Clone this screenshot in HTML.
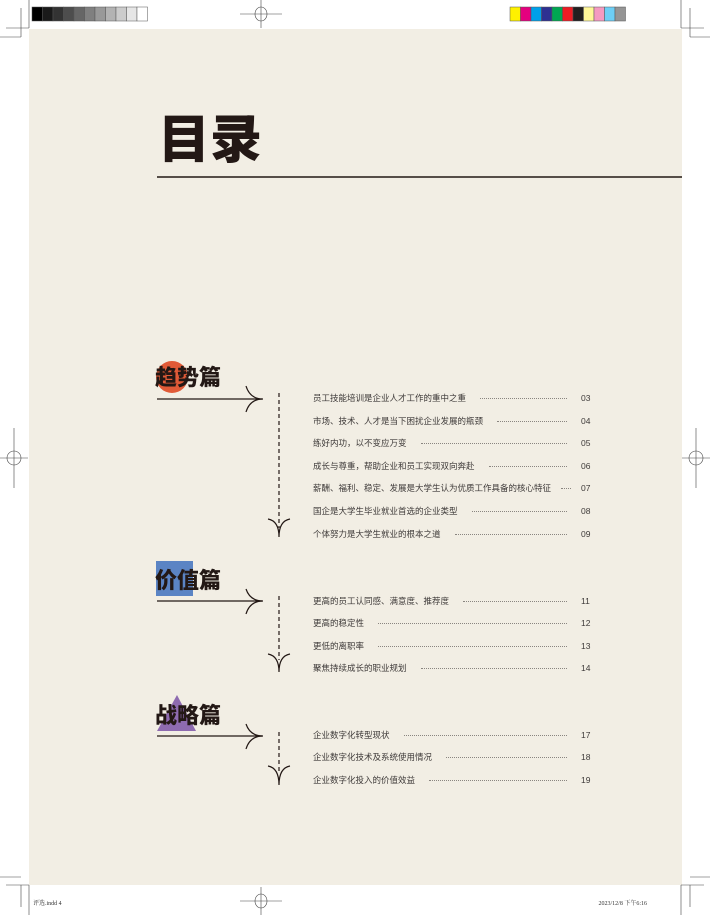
<!DOCTYPE html>
<html><head><meta charset="utf-8"><style>
body{margin:0;width:710px;height:915px;background:#fff;position:relative;overflow:hidden;font-family:"Liberation Sans","Noto Sans CJK SC",sans-serif;}
.pg{position:absolute;left:29px;top:29px;width:653px;height:856px;background:#f2eee4;}
.t{position:absolute;left:158px;top:100px;font-size:52px;font-weight:900;color:#231815;letter-spacing:0px;font-family:"Noto Sans CJK SC",sans-serif;line-height:72px;}
.h{position:absolute;left:155px;font-size:22px;font-weight:900;color:#231815;font-family:"Noto Sans CJK SC",sans-serif;line-height:30px;}
.r{position:absolute;left:313px;width:280px;display:flex;align-items:center;font-size:8.5px;color:#3e3a39;height:12px;white-space:nowrap;font-family:"Liberation Sans","Noto Sans CJK SC",sans-serif;}
.r span{white-space:nowrap;flex-shrink:0}
.r .d{flex:1 1 auto;flex-shrink:1;border-bottom:1px dotted #8a8580;margin:0 14px 0 14px;height:0;position:relative;}
.r .n{width:12px;text-align:left;font-size:8.5px;}
</style></head><body>
<div class="pg"></div>
<svg width="710" height="915" style="position:absolute;left:0;top:0">
<g stroke="#444" stroke-width="0.6" fill="none">
<line x1="29" y1="0" x2="29" y2="28"/><line x1="21" y1="8" x2="21" y2="37"/><line x1="6" y1="28" x2="29" y2="28"/><line x1="0" y1="37" x2="21" y2="37"/>
<line x1="681" y1="0" x2="681" y2="28"/><line x1="690" y1="8" x2="690" y2="37"/><line x1="681" y1="28" x2="704" y2="28"/><line x1="690" y1="37" x2="710" y2="37"/>
<line x1="29" y1="885" x2="29" y2="915"/><line x1="21" y1="885" x2="21" y2="907"/><line x1="0" y1="877" x2="21" y2="877"/><line x1="6" y1="885" x2="29" y2="885"/>
<line x1="681" y1="885" x2="681" y2="915"/><line x1="690" y1="885" x2="690" y2="907"/><line x1="690" y1="877" x2="710" y2="877"/><line x1="681" y1="885" x2="704" y2="885"/>
<line x1="240" y1="14" x2="282" y2="14"/><line x1="261" y1="0" x2="261" y2="28"/><ellipse cx="261" cy="14" rx="6" ry="7"/>
<line x1="240" y1="901" x2="282" y2="901"/><line x1="261" y1="887" x2="261" y2="915"/><ellipse cx="261" cy="901" rx="6" ry="7"/>
<line x1="0" y1="458" x2="28" y2="458"/><line x1="14" y1="428" x2="14" y2="488"/><circle cx="14" cy="458" r="7"/>
<line x1="682" y1="458" x2="710" y2="458"/><line x1="696" y1="428" x2="696" y2="488"/><circle cx="696" cy="458" r="7"/>
</g>
<g stroke="#555" stroke-width="0.5">
<rect x="32" y="7" width="10.5" height="14" fill="#000"/><rect x="42.5" y="7" width="10.5" height="14" fill="#1a1a1a"/><rect x="53" y="7" width="10.5" height="14" fill="#333"/><rect x="63.5" y="7" width="10.5" height="14" fill="#4d4d4d"/><rect x="74" y="7" width="10.5" height="14" fill="#666"/><rect x="84.5" y="7" width="10.5" height="14" fill="#808080"/><rect x="95" y="7" width="10.5" height="14" fill="#999"/><rect x="105.5" y="7" width="10.5" height="14" fill="#b3b3b3"/><rect x="116" y="7" width="10.5" height="14" fill="#ccc"/><rect x="126.5" y="7" width="10.5" height="14" fill="#e6e6e6"/><rect x="137" y="7" width="10.5" height="14" fill="#fff"/>
<rect x="510" y="7" width="10.5" height="14" fill="#fff100"/><rect x="520.5" y="7" width="10.5" height="14" fill="#e4007f"/><rect x="531" y="7" width="10.5" height="14" fill="#00a0e9"/><rect x="541.5" y="7" width="10.5" height="14" fill="#2e3192"/><rect x="552" y="7" width="10.5" height="14" fill="#00a652"/><rect x="562.5" y="7" width="10.5" height="14" fill="#ed1c24"/><rect x="573" y="7" width="10.5" height="14" fill="#231f20"/><rect x="583.5" y="7" width="10.5" height="14" fill="#fff799"/><rect x="594" y="7" width="10.5" height="14" fill="#f49ac1"/><rect x="604.5" y="7" width="10.5" height="14" fill="#6dcff6"/><rect x="615" y="7" width="10.5" height="14" fill="#959595"/>
</g>
<line x1="157" y1="177" x2="682" y2="177" stroke="#231815" stroke-width="1.6"/>
<circle cx="172" cy="377" r="16" fill="#e05a37"/>
<rect x="156" y="561" width="37" height="35" fill="#5b84c4"/>
<polygon points="177,695 196,731 157,731" fill="#8e6bb0"/>
<g stroke="#231815" stroke-width="1.2" fill="none">
<line x1="157" y1="399" x2="262" y2="399"/><path d="M246,386 Q250,399 263,399 Q250,399 246,412"/>
<line x1="279" y1="393" x2="279" y2="528" stroke-dasharray="4,3"/><path d="M268,519 Q279,521 279,537 Q279,521 290,519"/>
<line x1="157" y1="601" x2="262" y2="601"/><path d="M246,589 Q250,601 263,601 Q250,601 246,614"/>
<line x1="279" y1="596" x2="279" y2="660" stroke-dasharray="4,3"/><path d="M268,654 Q279,656 279,672 Q279,656 290,654"/>
<line x1="157" y1="736" x2="262" y2="736"/><path d="M246,724 Q250,736 263,736 Q250,736 246,749"/>
<line x1="279" y1="732" x2="279" y2="772" stroke-dasharray="4,3"/><path d="M268,766 Q279,768 279,785 Q279,768 290,766"/>
</g>
<text x="33" y="905" font-size="6" fill="#333" font-family="Liberation Serif,Noto Serif CJK SC,serif">评选.indd 4</text>
<text x="647" y="905" font-size="6" fill="#333" text-anchor="end" font-family="Liberation Serif,Noto Serif CJK SC,serif">2023/12/8 下午6:16</text>
</svg>
<div class="t">目录</div>
<div class="h" style="top:361px">趋势篇</div>
<div class="h" style="top:564px">价值篇</div>
<div class="h" style="top:699px">战略篇</div>
<div class="r" style="top:392px"><span>员工技能培训是企业人才工作的重中之重</span><span class="d"></span><span class="n">03</span></div>
<div class="r" style="top:415px"><span>市场、技术、人才是当下困扰企业发展的瓶颈</span><span class="d"></span><span class="n">04</span></div>
<div class="r" style="top:437px"><span>练好内功，以不变应万变</span><span class="d"></span><span class="n">05</span></div>
<div class="r" style="top:460px"><span>成长与尊重，帮助企业和员工实现双向奔赴</span><span class="d"></span><span class="n">06</span></div>
<div class="r" style="top:482px"><span>薪酬、福利、稳定、发展是大学生认为优质工作具备的核心特征</span><span class="d" style="margin:0 10px"></span><span class="n">07</span></div>
<div class="r" style="top:505px"><span>国企是大学生毕业就业首选的企业类型</span><span class="d"></span><span class="n">08</span></div>
<div class="r" style="top:528px"><span>个体努力是大学生就业的根本之道</span><span class="d"></span><span class="n">09</span></div>
<div class="r" style="top:595px"><span>更高的员工认同感、满意度、推荐度</span><span class="d"></span><span class="n">11</span></div>
<div class="r" style="top:617px"><span>更高的稳定性</span><span class="d"></span><span class="n">12</span></div>
<div class="r" style="top:640px"><span>更低的离职率</span><span class="d"></span><span class="n">13</span></div>
<div class="r" style="top:662px"><span>聚焦持续成长的职业规划</span><span class="d"></span><span class="n">14</span></div>
<div class="r" style="top:729px"><span>企业数字化转型现状</span><span class="d"></span><span class="n">17</span></div>
<div class="r" style="top:751px"><span>企业数字化技术及系统使用情况</span><span class="d"></span><span class="n">18</span></div>
<div class="r" style="top:774px"><span>企业数字化投入的价值效益</span><span class="d"></span><span class="n">19</span></div>
</body></html>
